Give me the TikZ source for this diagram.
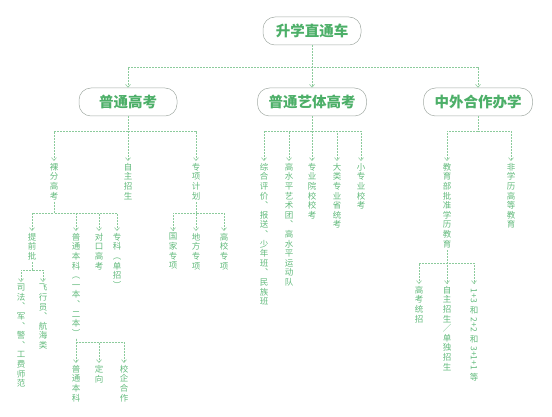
\documentclass[tikz,border=0pt]{standalone}
\usepackage{fontspec}
\usepackage{graphicx}
\usetikzlibrary{arrows.meta,positioning}
\newfontfamily\cjk{Noto Sans CJK SC}
\definecolor{titlegreen}{HTML}{4CAF68}
\definecolor{textgreen}{HTML}{62BA7C}
\definecolor{linegreen}{HTML}{8CCB9C}
\definecolor{boxgray}{HTML}{A3ABA5}
\tikzset{
  headbox/.style={draw=boxgray,fill=white,line width=0.5pt,rounded corners=12pt,
                  minimum width=98pt,minimum height=28pt,inner xsep=11pt,
                  font=\cjk\bfseries\fontsize{14.5}{16}\selectfont,text=titlegreen},
  vlabel/.style={anchor=north,inner xsep=0pt,inner ysep=2pt,align=center,
                 text=textgreen,font=\cjk\fontsize{8.5}{9.6}\selectfont},
  link/.style={draw=linegreen,line width=0.6pt,dash pattern=on 2pt off 1pt,
               -{Straight Barb[length=3pt,width=5pt]}}
}
\newcommand\side[1]{\rotatebox[origin=c]{-90}{\hspace{2.5pt}#1\hspace{2.5pt}}}

\begin{document}
\begin{tikzpicture}[x=1pt,y=-1pt]
  \useasboundingbox (0,0) rectangle (552,417);
  % top levels
  \node[headbox] (root) at (312,31) {升学直通车};
  \node[headbox] (gaokao) at (128,102) {普通高考};
  \node[headbox] (yiti) at (312,102) {普通艺体高考};
  \node[headbox] (zhongwai) at (478,102) {中外合作办学};
  \foreach \c in {gaokao,yiti,zhongwai}
    \draw[link] (root.south) -- (root.south |- 0,67) -| (\c.north);
  % 普通高考
  \node[vlabel] (luofen) at (54,161) {裸\\分\\高\\考};
  \node[vlabel] (zizhu) at (128,161) {自\\主\\招\\生};
  \node[vlabel] (zhuanxiang) at (196,161) {专\\项\\计\\划};
  \foreach \c in {luofen,zizhu,zhuanxiang}
    \draw[link] (gaokao.south) -- (gaokao.south |- 0,131) -| (\c.north);
  \node[vlabel] (tiqian) at (32,231) {提\\前\\批};
  \node[vlabel] (benke) at (76,231) {普\\通\\本\\科\\︵\\一\\本\\︑\\二\\本\\︶};
  \node[vlabel] (duikou) at (99,231) {对\\口\\高\\考};
  \node[vlabel] (zhuanke) at (117,231) {专\\科\\︵\\单\\招\\︶};
  \foreach \c in {tiqian,benke,duikou,zhuanke}
    \draw[link] (luofen.south) -- (luofen.south |- 0,213) -| (\c.north);
  \node[vlabel] (sifa) at (21,282) {司\\法\\︑\\军\\︑\\警\\︑\\工\\费\\师\\范};
  \node[vlabel] (feixing) at (43,282) {飞\\行\\员\\︑\\航\\海\\类};
  \foreach \c in {sifa,feixing}
    \draw[link] (tiqian.south) -- (tiqian.south |- 0,270) -| (\c.north);
  \node[vlabel] (putong) at (76,363) {普\\通\\本\\科};
  \node[vlabel] (dingxiang) at (99,363) {定\\向};
  \node[vlabel] (xiaoqi) at (124,363) {校\\企\\合\\作};
  \foreach \c in {putong,dingxiang,xiaoqi}
    \draw[link] (benke.south) -- (benke.south |- 0,342) -| (\c.north);
  \node[vlabel] (guojia) at (173,231) {国\\家\\专\\项};
  \node[vlabel] (difang) at (196,231) {地\\方\\专\\项};
  \node[vlabel] (gaoxiao) at (224,231) {高\\校\\专\\项};
  \foreach \c in {guojia,difang,gaoxiao}
    \draw[link] (zhuanxiang.south) -- (zhuanxiang.south |- 0,213) -| (\c.north);
  % 普通艺体高考
  \node[vlabel] (zonghe) at (264,161) {综\\合\\评\\价\\︑\\报\\送\\︑\\少\\年\\班\\︑\\民\\族\\班};
  \node[vlabel] (shuiping) at (289,161) {高\\水\\平\\艺\\术\\团\\︑\\高\\水\\平\\运\\动\\队};
  \node[vlabel] (yuanxiao) at (312,161) {专\\业\\院\\校\\校\\考};
  \node[vlabel] (tongkao) at (337,161) {大\\类\\专\\业\\省\\统\\考};
  \node[vlabel] (xiaozhuan) at (361,161) {小\\专\\业\\校\\考};
  \foreach \c in {zonghe,shuiping,yuanxiao,tongkao,xiaozhuan}
    \draw[link] (yiti.south) -- (yiti.south |- 0,131) -| (\c.north);
  % 中外合作办学
  \node[vlabel] (xueli) at (447,161) {教\\育\\部\\批\\准\\学\\历\\教\\育};
  \node[vlabel] (feixueli) at (511,161) {非\\学\\历\\高\\等\\教\\育};
  \foreach \c in {xueli,feixueli}
    \draw[link] (zhongwai.south) -- (zhongwai.south |- 0,131) -| (\c.north);
  \node[vlabel] (tongzhao) at (419,284) {高\\考\\统\\招};
  \node[vlabel] (danzhao) at (447,284) {自\\主\\招\\生\\／\\单\\独\\招\\生};
  \node[vlabel] (moshi) at (474,284) {\side{1+3}\\和\\\side{2+2}\\和\\\side{3+1+1}\\等};
  \foreach \c in {tongzhao,danzhao,moshi}
    \draw[link] (xueli.south) -- (xueli.south |- 0,263) -| (\c.north);
\end{tikzpicture}
\end{document}
